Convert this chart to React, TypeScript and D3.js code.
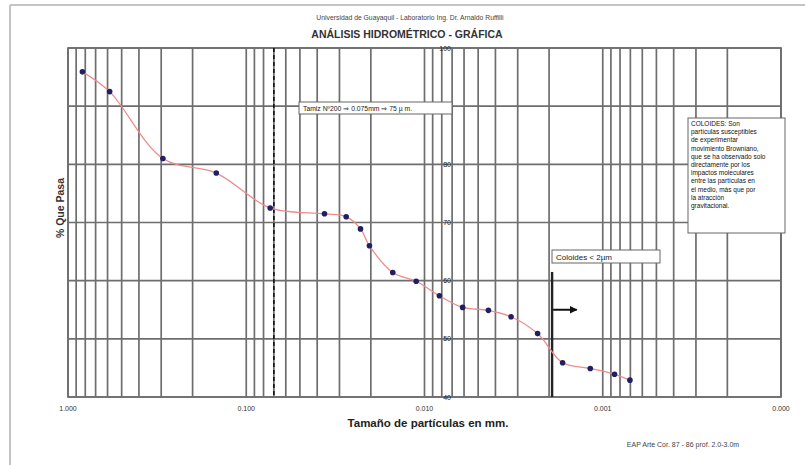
import * as d3 from 'd3';
import React, { useEffect, useRef } from "react";

// tamaño de particulas (mm) y % que pasa
const diametros = [0.830, 0.584, 0.2935, 0.1473, 0.0734, 0.0364, 0.0275, 0.02286, 0.02037, 0.01507,
  0.01114, 0.00825, 0.00611, 0.00438, 0.00327, 0.00232, 0.00168, 0.001175, 0.000859, 0.000704];
const porcentajes = [95.9, 92.5, 81.0, 78.5, 72.5, 71.5, 71.0, 68.9, 66.0, 61.4,
  59.9, 57.4, 55.4, 54.9, 53.8, 50.9, 45.9, 44.9, 43.9, 42.9];

const xTickValues = [1, 0.1, 0.01, 0.001, 0.0001];
const xTickLabels = ["1.000", "0.100", "0.010", "0.001", "0.000"];
const yTickValues = [40, 50, 60, 70, 80, 90, 100];

const tamiz200 = 0.07;
const limiteColoides = 0.002;

const notaColoides = [
  "COLOIDES: Son",
  "partículas susceptibles",
  "de experimentar",
  "movimiento Browniano,",
  "que se ha observado solo",
  "directamente por los",
  "impactos moleculares",
  "entre las partículas en",
  "el medio, más que por",
  "la atracción",
  "gravitacional.",
];

const font = "'Liberation Sans', Arial, sans-serif";

export default function App() {
  const svgRef = useRef(null);
  const width = 805;
  const height = 465;
  const margin = { left: 68, right: 24, top: 48, bottom: 68 };

  useEffect(() => {
    const svg = d3.select(svgRef.current);
    svg.selectAll('*').remove();

    const x = d3.scaleLog().domain([1, 0.0001]).range([margin.left, width - margin.right]);
    const y = d3.scaleLinear().domain([40, 100]).range([height - margin.bottom, margin.top]);

    // marco exterior
    svg.append("line").attr("x1", 10).attr("x2", width).attr("y1", 5).attr("y2", 5)
      .attr("stroke", "#c4c4c4").attr("stroke-width", 2);
    svg.append("line").attr("x1", 10).attr("x2", 10).attr("y1", 5).attr("y2", height)
      .attr("stroke", "#c4c4c4").attr("stroke-width", 2);

    svg.append("text")
      .attr("x", 410).attr("y", 20)
      .attr("text-anchor", "middle")
      .style("font-family", font).style("font-size", "6.8px").attr("fill", "#444")
      .text("Universidad de Guayaquil - Laboratorio Ing. Dr. Arnaldo Ruffilli");

    svg.append("text")
      .attr("x", 407).attr("y", 38)
      .attr("text-anchor", "middle")
      .style("font-family", font).style("font-size", "10.5px").style("font-weight", "bold")
      .attr("fill", "#333")
      .text("ANÁLISIS HIDROMÉTRICO - GRÁFICA");

    const plot = svg.append("g");

    // rejilla logaritmica
    const minorTicks = x.ticks();
    plot.selectAll(".vgrid").data(minorTicks).enter().append("line")
      .attr("class", "vgrid")
      .attr("x1", d => x(d)).attr("x2", d => x(d))
      .attr("y1", y(100)).attr("y2", y(40))
      .attr("stroke", "#6e6e6e").attr("stroke-width", 1.7);

    plot.selectAll(".hgrid").data(yTickValues).enter().append("line")
      .attr("class", "hgrid")
      .attr("x1", x(1)).attr("x2", x(0.0001))
      .attr("y1", d => y(d)).attr("y2", d => y(d))
      .attr("stroke", "#6e6e6e").attr("stroke-width", 1.7);

    plot.append("rect")
      .attr("x", x(1)).attr("y", y(100))
      .attr("width", x(0.0001) - x(1)).attr("height", y(40) - y(100))
      .attr("fill", "none").attr("stroke", "#6e6e6e").attr("stroke-width", 1.7);

    // etiquetas eje y (cruza en 0.007)
    plot.selectAll(".ylab").data(yTickValues).enter().append("text")
      .attr("class", "ylab")
      .attr("x", x(0.0071)).attr("y", d => y(d) + 2.5)
      .attr("text-anchor", "end")
      .style("font-family", font).style("font-size", "7px").attr("fill", "#222")
      .text(d => d);

    // etiquetas eje x
    plot.selectAll(".xlab").data(xTickValues).enter().append("text")
      .attr("class", "xlab")
      .attr("x", d => x(d)).attr("y", y(40) + 14)
      .attr("text-anchor", "middle")
      .style("font-family", font).style("font-size", "7px").attr("fill", "#333")
      .text((d, i) => xTickLabels[i]);

    // linea tamiz 200
    plot.append("line")
      .attr("x1", x(tamiz200)).attr("x2", x(tamiz200))
      .attr("y1", y(100)).attr("y2", y(40))
      .attr("stroke", "#111").attr("stroke-width", 1.6).attr("stroke-dasharray", "4,3");

    // linea de coloides
    plot.append("line")
      .attr("x1", x(limiteColoides) + 3).attr("x2", x(limiteColoides) + 3)
      .attr("y1", y(61.5)).attr("y2", y(40))
      .attr("stroke", "#222").attr("stroke-width", 2.4);

    svg.append("defs").append("marker")
      .attr("id", "flecha").attr("viewBox", "0 0 10 10")
      .attr("refX", 9).attr("refY", 5)
      .attr("markerWidth", 4).attr("markerHeight", 4)
      .attr("orient", "auto")
      .append("path").attr("d", "M0,0L10,5L0,10z").attr("fill", "#111");

    plot.append("line")
      .attr("x1", x(limiteColoides) + 4).attr("x2", x(0.0014))
      .attr("y1", y(55)).attr("y2", y(55))
      .attr("stroke", "#111").attr("stroke-width", 2)
      .attr("marker-end", "url(#flecha)");

    // curva granulometrica
    const data = diametros.map((d, i) => ({ d, p: porcentajes[i] }));
    const line = d3.line()
      .x(d => x(d.d))
      .y(d => y(d.p))
      .curve(d3.curveCatmullRom.alpha(0.5));

    plot.append("path")
      .datum(data)
      .attr("d", line)
      .attr("fill", "none")
      .attr("stroke", "#ee8c8c")
      .attr("stroke-width", 1.3);

    plot.selectAll(".punto").data(data).enter().append("circle")
      .attr("class", "punto")
      .attr("cx", d => x(d.d)).attr("cy", d => y(d.p))
      .attr("r", 2.8)
      .attr("fill", "#1f1f63");

    // cuadros de texto
    const tamizBox = svg.append("g").attr("transform", "translate(299,102)");
    tamizBox.append("rect").attr("width", 153).attr("height", 12)
      .attr("fill", "#fff").attr("stroke", "#666").attr("stroke-width", 1);
    tamizBox.append("text").attr("x", 4).attr("y", 8.5)
      .style("font-family", font).style("font-size", "6.8px").attr("fill", "#222")
      .text("Tamiz Nº200 ⇒ 0.075mm ⇒ 75 µ m.");

    const colBox = svg.append("g").attr("transform", "translate(552,250)");
    colBox.append("rect").attr("width", 108).attr("height", 13)
      .attr("fill", "#fff").attr("stroke", "#666").attr("stroke-width", 1);
    colBox.append("text").attr("x", 4).attr("y", 9.5)
      .style("font-family", font).style("font-size", "8px").attr("fill", "#222")
      .text("Coloides < 2µm");

    const notaBox = svg.append("g").attr("transform", "translate(688,118)");
    notaBox.append("rect").attr("width", 97).attr("height", 115)
      .attr("fill", "#fff").attr("stroke", "#666").attr("stroke-width", 1);
    notaBox.selectAll("text").data(notaColoides).enter().append("text")
      .attr("x", 3).attr("y", (d, i) => 8 + i * 8.2)
      .style("font-family", font).style("font-size", "6.5px").attr("fill", "#111")
      .text(d => d);

    // titulos de ejes
    svg.append("text")
      .attr("transform", "rotate(-90)")
      .attr("x", -208).attr("y", 64)
      .attr("text-anchor", "middle")
      .style("font-family", font).style("font-size", "10.5px").style("font-weight", "bold")
      .attr("fill", "#333")
      .text("% Que Pasa");

    svg.append("text")
      .attr("x", 428).attr("y", 427)
      .attr("text-anchor", "middle")
      .style("font-family", font).style("font-size", "11.5px").style("font-weight", "bold")
      .attr("fill", "#222")
      .text("Tamaño de partículas en mm.");

    svg.append("text")
      .attr("x", 683).attr("y", 447)
      .attr("text-anchor", "middle")
      .style("font-family", font).style("font-size", "7px").attr("fill", "#444")
      .text("EAP Arte Cor. 87 - 86 prof. 2.0-3.0m");
  }, []);

  return (
    <div style={{ position: 'absolute', left: 0, top: 0 }}>
      <svg ref={svgRef} width={width} height={height} style={{ display: 'block', background: '#fff' }} />
    </div>
  );
}
